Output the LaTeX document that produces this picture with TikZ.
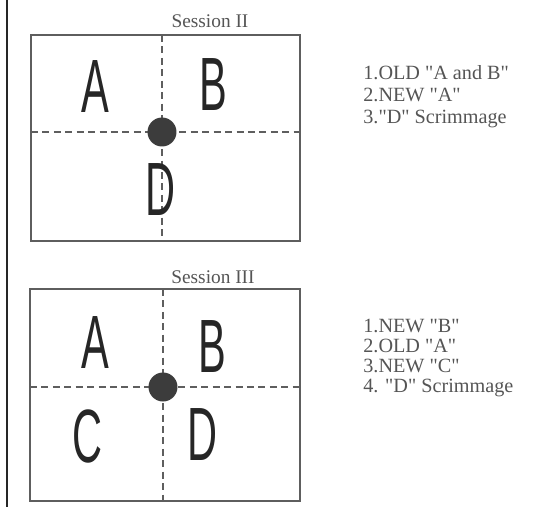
\documentclass[tikz,border=0pt]{standalone}
\usepackage{fontspec}
\setmainfont{Liberation Serif}
\newfontfamily\handfont{Liberation Sans}
\usetikzlibrary{positioning}
\definecolor{fieldgray}{HTML}{5E5E5E}
\definecolor{textgray}{HTML}{555555}
\definecolor{balldark}{HTML}{3C3C3C}
\definecolor{letterdark}{HTML}{262626}
\newcommand{\dq}{\textquotedbl}

\begin{document}
\begin{tikzpicture}[
    x=0.02cm, y=-0.02cm,
    field/.style={draw=fieldgray, line width=0.9pt},
    midline/.style={draw=fieldgray, line width=0.8pt, dash pattern=on 4pt off 2.5pt},
    ball/.style={circle, fill=balldark, minimum size=0.58cm, inner sep=0pt},
    spot/.style={anchor=base, text=letterdark, xscale=0.55, inner sep=0pt,
        font=\handfont\fontsize{43}{43}\selectfont},
    title/.style={anchor=base, text=textgray, inner sep=0pt, font=\fontsize{11}{13}\selectfont},
    plan/.style={anchor=base west, text=textgray, inner sep=0pt, font=\fontsize{11.5}{13}\selectfont}
]
\useasboundingbox (0,0) rectangle (544,507);
% margin rule
\draw[letterdark, line width=1.1pt] (7,0) -- (7,507);

% Session II
\node[title] (t2) at (210,28) {Session II};
\draw[field] (31,35) rectangle (300,241);
\coordinate (w2) at (31,132);  \coordinate (e2) at (300,132);
\coordinate (n2) at (162,35);  \coordinate (s2) at (162,241);
\draw[midline] (w2) -- (e2);
\draw[midline] (n2) -- (s2);
\node[ball] (c2) at (162,132) {};
\node[spot] (a2) at (95,112) {A};
\node[spot] (b2) at (213,110) {B};
\node[spot] (d2) at (161,215) {D};

\node[plan] (p21) at (363,79) {1.OLD \dq A and B\dq};
\node[plan] (p22) at (363,101) {2.NEW \dq A\dq};
\node[plan] (p23) at (363,123) {3.\dq D\dq\ Scrimmage};

% Session III
\node[title] (t3) at (213,283) {Session III};
\draw[field] (30,289) rectangle (300,501);
\coordinate (w3) at (30,387);  \coordinate (e3) at (300,387);
\coordinate (n3) at (163,289); \coordinate (s3) at (163,501);
\draw[midline] (w3) -- (e3);
\draw[midline] (n3) -- (s3);
\node[ball] (c3) at (163,387) {};
\node[spot] (a3) at (95,368) {A};
\node[spot] (b3) at (212,372) {B};
\node[spot] (cc3) at (88,462) {C};
\node[spot] (d3) at (203,460) {D};

\node[plan] (p31) at (363,332) {1.NEW \dq B\dq};
\node[plan] (p32) at (363,352) {2.OLD \dq A\dq};
\node[plan] (p33) at (363,372) {3.NEW \dq C\dq};
\node[plan] (p34) at (363,392) {4. \dq D\dq\ Scrimmage};
\end{tikzpicture}
\end{document}
